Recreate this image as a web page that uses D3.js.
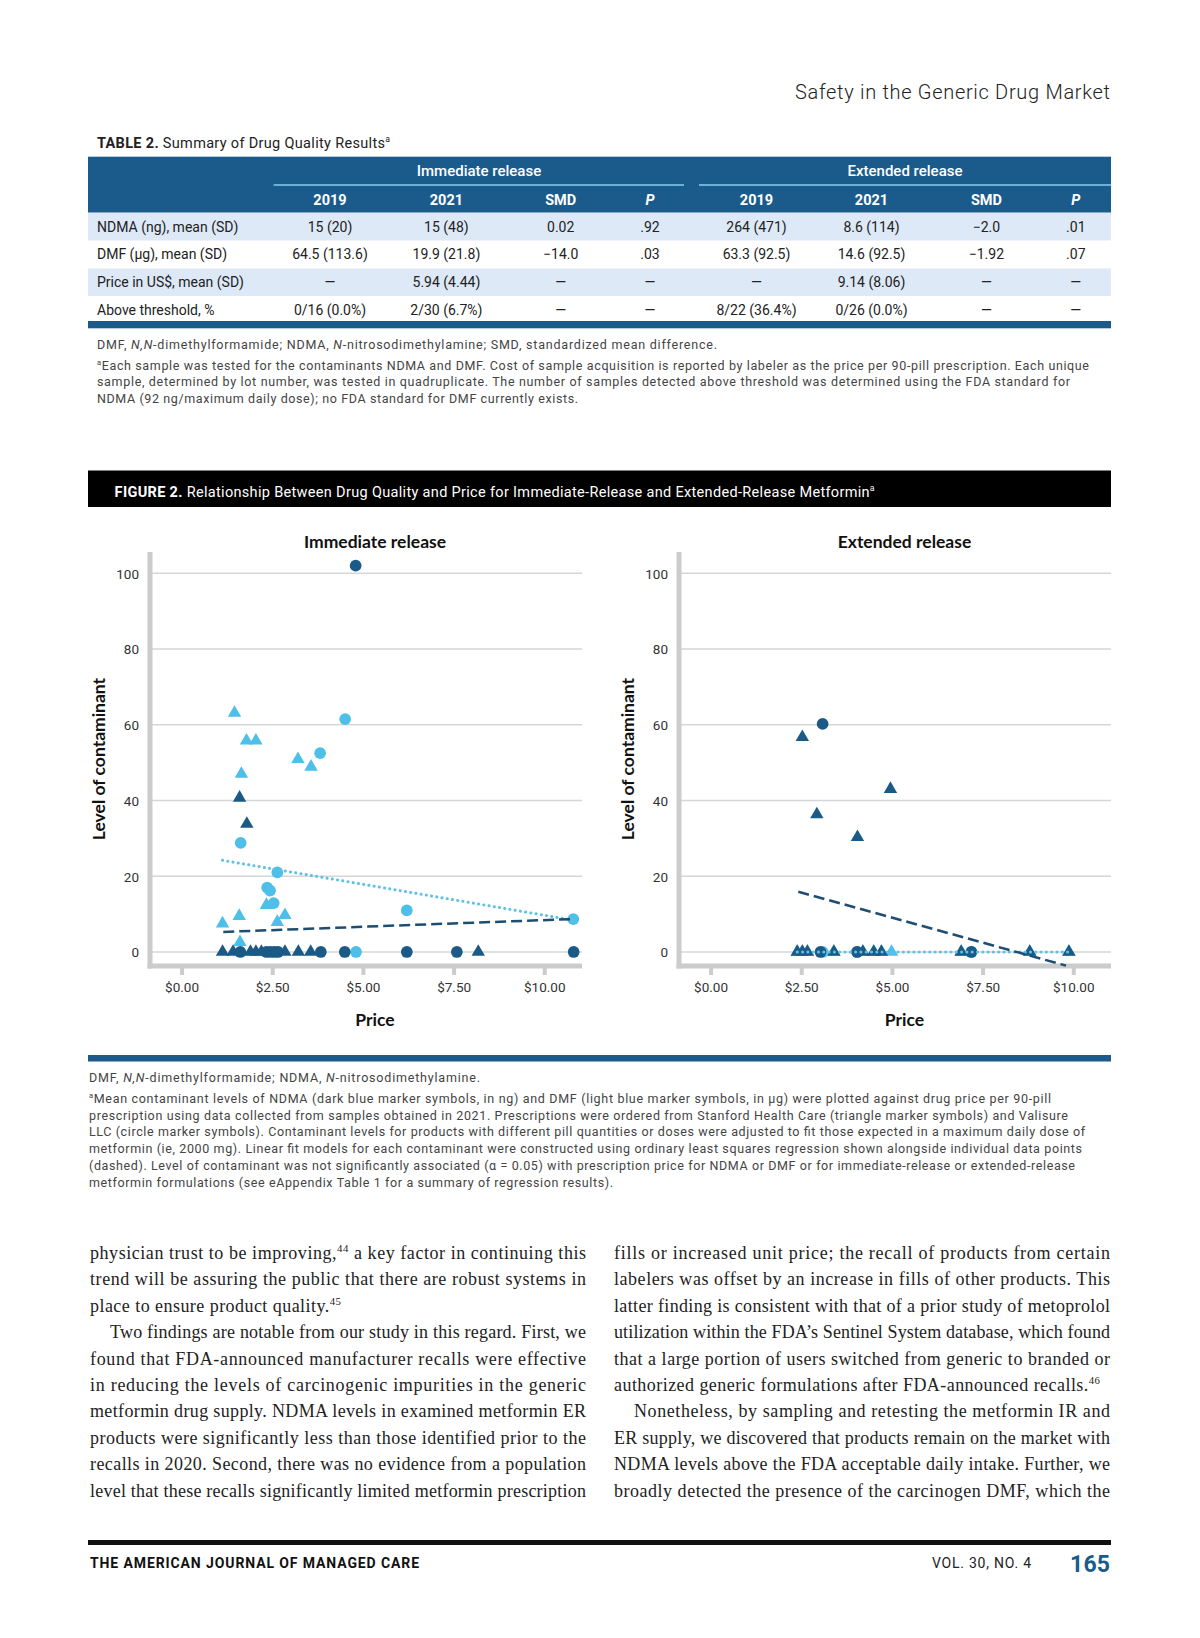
<!DOCTYPE html>
<html><head><meta charset="utf-8">
<script src="https://cdn.jsdelivr.net/npm/d3@7"></script>
<style>
html,body{margin:0;padding:0;background:#fff;}
svg{display:block;}
</style></head><body>
<svg id="page" width="1200" height="1638"></svg>
<script>
// ---------------- DATA ----------------
const tableGroups = ["Immediate release", "Extended release"];
const tableCols = ["2019", "2021", "SMD", "P", "2019", "2021", "SMD", "P"];
const tableRowLabels = ["NDMA (ng), mean (SD)", "DMF (µg), mean (SD)", "Price in US$, mean (SD)", "Above threshold, %"];
const tableValues = [
  ["15 (20)", "15 (48)", "0.02", ".92", "264 (471)", "8.6 (114)", "−2.0", ".01"],
  ["64.5 (113.6)", "19.9 (21.8)", "−14.0", ".03", "63.3 (92.5)", "14.6 (92.5)", "−1.92", ".07"],
  ["—", "5.94 (4.44)", "—", "—", "—", "9.14 (8.06)", "—", "—"],
  ["0/16 (0.0%)", "2/30 (6.7%)", "—", "—", "8/22 (36.4%)", "0/26 (0.0%)", "—", "—"]
];

const xTicks = [0, 2.5, 5, 7.5, 10];
const yTicks = [0, 20, 40, 60, 80, 100];
const panelTitles = ["Immediate release", "Extended release"];

// Immediate release: [price, level]
const irNdmaTriangles = [[1.13,0],[1.42,0],[1.90,0],[2.05,0],[2.20,0],[2.85,0],[3.22,0],[3.56,0],[8.18,0],[1.60,40.7],[1.80,33.8]];
const irNdmaCircles = [[1.62,0],[2.34,0],[2.45,0],[2.56,0],[2.66,0],[3.84,0],[4.50,0],[6.21,0],[7.59,0],[10.81,0],[4.80,102]];
const irDmfTriangles = [[1.46,63.1],[1.79,55.8],[2.05,55.8],[3.21,50.9],[3.57,48.9],[1.65,47.0],[2.34,12.4],[1.59,9.5],[2.85,9.7],[1.13,7.5],[2.64,7.9],[1.61,2.6]];
const irDmfCircles = [[4.51,61.5],[3.82,52.5],[1.63,28.8],[2.64,21.0],[2.36,17.0],[2.44,16.2],[2.54,12.9],[6.21,11.0],[10.80,8.7],[4.81,0]];
const irNdmaFit = [[1.15,5.3],[10.80,8.7]];
const irDmfFit = [[1.13,24.2],[10.80,8.4]];

// Extended release
const erNdmaTriangles = [[2.53,56.7],[2.93,36.3],[4.96,43.0],[4.05,30.3],[2.39,0],[2.53,0],[2.67,0],[3.40,0],[4.20,0],[4.50,0],[4.71,0],[6.91,0],[8.80,0],[9.88,0]];
const erNdmaCircles = [[3.09,60.2],[3.03,0],[4.04,0],[7.19,0]];
const erDmfTriangles = [[2.39,0],[2.53,0],[2.67,0],[3.40,0],[4.20,0],[4.50,0],[4.71,0],[4.99,0],[6.91,0],[8.80,0],[9.88,0]];
const erDmfCircles = [[3.09,0],[4.04,0],[7.19,0]];
const erNdmaFit = [[2.42,15.9],[9.80,-3.6]];
const erDmfFit = [[2.39,0],[9.88,0]];

const bodyLeft = [
  {p:["physician trust to be improving,",["44","s"]," a key factor in continuing this"], j:true},
  {p:["trend will be assuring the public that there are robust systems in"], j:true},
  {p:["place to ensure product quality.",["45","s"]], j:false, len:251},
  {p:["Two findings are notable from our study in this regard. First, we"], j:true, ind:true},
  {p:["found that FDA-announced manufacturer recalls were effective"], j:true},
  {p:["in reducing the levels of carcinogenic impurities in the generic"], j:true},
  {p:["metformin drug supply. NDMA levels in examined metformin ER"], j:true},
  {p:["products were significantly less than those identified prior to the"], j:true},
  {p:["recalls in 2020. Second, there was no evidence from a population"], j:true},
  {p:["level that these recalls significantly limited metformin prescription"], j:true}
];
const bodyRight = [
  {p:["fills or increased unit price; the recall of products from certain"], j:true},
  {p:["labelers was offset by an increase in fills of other products. This"], j:true},
  {p:["latter finding is consistent with that of a prior study of metoprolol"], j:true},
  {p:["utilization within the FDA’s Sentinel System database, which found"], j:true},
  {p:["that a large portion of users switched from generic to branded or"], j:true},
  {p:["authorized generic formulations after FDA-announced recalls.",["46","s"]], j:false, len:486},
  {p:["Nonetheless, by sampling and retesting the metformin IR and"], j:true, ind:true},
  {p:["ER supply, we discovered that products remain on the market with"], j:true},
  {p:["NDMA levels above the FDA acceptable daily intake. Further, we"], j:true},
  {p:["broadly detected the presence of the carcinogen DMF, which the"], j:true}
];

// ---------------- DRAW ----------------
const svg = d3.select("#page");
const BLUE = "#1b5b8c";
const LIGHTROW = "#dde9f6";
const DARK = "#1b5a86";
const LIGHT = "#4dbfe9";

function rich(parent, x, y, parts, o = {}) {
  const size = o.size || 14;
  const t = parent.append("text").attr("x", x).attr("y", y)
    .attr("font-family", o.family || "Roboto").attr("font-size", size)
    .attr("fill", o.fill || "#222").attr("font-weight", o.weight || 400);
  if (o.anchor) t.attr("text-anchor", o.anchor);
  if (o.len) t.attr("textLength", o.len).attr("lengthAdjust", "spacing");
  let shifted = 0;
  parts.forEach(p => {
    const txt = typeof p === "string" ? p : p[0];
    const st = typeof p === "string" ? "" : p[1];
    const s = t.append("tspan").text(txt);
    if (st.includes("b")) s.attr("font-weight", 700);
    if (st.includes("i")) s.attr("font-style", "italic");
    if (st.includes("s")) {
      s.attr("font-size", size * 0.6).attr("dy", -size * 0.38);
      shifted = size * 0.38;
    } else if (shifted) { s.attr("dy", shifted); shifted = 0; }
  });
  return t;
}

// Running header
rich(svg, 1110, 99, ["Safety in the Generic Drug Market"], {size: 20, weight: 300, anchor: "end", fill: "#222", len: 315});

// Table title
rich(svg, 97, 148, [["TABLE 2.", "b"], " Summary of Drug Quality Results", ["a", "s"]], {size: 14.5, fill: "#222", len: 293});

// Table
const T = svg.append("g");
T.append("rect").attr("x", 88).attr("y", 156.7).attr("width", 1023).attr("height", 56).attr("fill", BLUE);
const groupSpans = [[273.6, 684], [699, 1111]];
const groupX = [479, 905];
tableGroups.forEach((g, i) => {
  T.append("line").attr("x1", groupSpans[i][0]).attr("x2", groupSpans[i][1]).attr("y1", 185).attr("y2", 185)
    .attr("stroke", "#86cdf0").attr("stroke-width", 1.5);
  rich(T, groupX[i], 176, [g], {size: 15, weight: 500, anchor: "middle", fill: "#fff"});
});
const colX = [330, 446.4, 560.7, 650, 756.5, 871.5, 986.4, 1075.8];
tableCols.forEach((c, i) => {
  rich(T, colX[i], 204.5, [[c, c === "P" ? "bi" : "b"]], {size: 14.5, weight: 500, anchor: "middle", fill: "#fff"});
});
const rowTop = [212.7, 240.5, 268.5, 296, 321];
const rowBase = [231.8, 259, 287.3, 315];
tableRowLabels.forEach((lab, r) => {
  if (r % 2 === 0) T.append("rect").attr("x", 88).attr("y", rowTop[r]).attr("width", 1023).attr("height", rowTop[r + 1] - rowTop[r]).attr("fill", LIGHTROW);
  rich(T, 97, rowBase[r], [lab], {size: 14, fill: "#222"});
  tableValues[r].forEach((v, c) => rich(T, colX[c], rowBase[r], [v], {size: 14, anchor: "middle", fill: "#222"}));
});
T.append("rect").attr("x", 88).attr("y", 321).attr("width", 1023).attr("height", 7.3).attr("fill", BLUE);

// Table footnotes
const fnTable = [
  {p:["DMF, ",["N,N","i"],"-dimethylformamide; NDMA, ",["N","i"],"-nitrosodimethylamine; SMD, standardized mean difference."], len:620},
  {p:[["a","s"],"Each sample was tested for the contaminants NDMA and DMF. Cost of sample acquisition is reported by labeler as the price per 90-pill prescription. Each unique"], len:992},
  {p:["sample, determined by lot number, was tested in quadruplicate. The number of samples detected above threshold was determined using the FDA standard for"], len:973},
  {p:["NDMA (92 ng/maximum daily dose); no FDA standard for DMF currently exists."], len:481}
];
const fnTableY = [348.8, 369.5, 386, 402.5];
fnTable.forEach((l, i) => rich(svg, 97, fnTableY[i], l.p, {size: 12.5, fill: "#444", len: l.len}));

// Figure title bar
svg.append("rect").attr("x", 88).attr("y", 470.5).attr("width", 1023).attr("height", 36.5).attr("fill", "#000");
rich(svg, 114.6, 496.5, [["FIGURE 2.", "b"], " Relationship Between Drug Quality and Price for Immediate-Release and Extended-Release Metformin", ["a", "s"]], {size: 14.5, fill: "#fff", len: 760});

// Panels
const xDomain = [-0.87, 11.04];
const yDomain = [-3.7, 105.6];
const panels = [
  {left: 150, right: 582, center: 375, ylab: 98.3, title: panelTitles[0],
   ndmaT: irNdmaTriangles, ndmaC: irNdmaCircles, dmfT: irDmfTriangles, dmfC: irDmfCircles, ndmaFit: irNdmaFit, dmfFit: irDmfFit},
  {left: 679, right: 1111, center: 904.5, ylab: 627.3, title: panelTitles[1],
   ndmaT: erNdmaTriangles, ndmaC: erNdmaCircles, dmfT: erDmfTriangles, dmfC: erDmfCircles, ndmaFit: erNdmaFit, dmfFit: erDmfFit}
];

const AX = "#cccccc";
panels.forEach(P => {
  const g = svg.append("g");
  const x = d3.scaleLinear().domain(xDomain).range([P.left, P.right]);
  const y = d3.scaleLinear().domain(yDomain).range([966, 552]);

  // gridlines
  g.selectAll("line.grid").data(yTicks).join("line").attr("class", "grid")
    .attr("x1", P.left).attr("x2", P.right).attr("y1", d => y(d)).attr("y2", d => y(d))
    .attr("stroke", "#d6d6d6").attr("stroke-width", 1.5);

  // y axis
  const ya = g.append("g").attr("transform", `translate(${P.left},0)`)
    .call(d3.axisLeft(y).tickValues(yTicks).tickSize(0).tickSizeOuter(0).tickPadding(11));
  ya.select(".domain").attr("stroke", AX).attr("stroke-width", 5).attr("d", `M0,552V968.5`);
  ya.selectAll("text").attr("font-family", "Roboto").attr("font-size", 13.5).attr("fill", "#333").attr("dy", "0.36em");

  // x axis
  const xa = g.append("g").attr("transform", "translate(0,966)")
    .call(d3.axisBottom(x).tickValues(xTicks).tickSize(9).tickSizeOuter(0).tickFormat(d3.format("$.2f")));
  xa.select(".domain").attr("stroke", AX).attr("stroke-width", 5).attr("d", `M${P.left - 2.5},0H${P.right}`);
  xa.selectAll(".tick line").attr("stroke", AX).attr("stroke-width", 4).attr("y1", 2);
  xa.selectAll("text").attr("font-family", "Roboto").attr("font-size", 13.5).attr("fill", "#333").attr("y", 25.5).attr("dy", null);

  // titles
  const lab = (sel) => sel.attr("font-family", "Lato").attr("font-weight", 700).attr("font-size", 17.5).attr("fill", "#111");
  lab(g.append("text").attr("x", P.center).attr("y", 547.8).attr("text-anchor", "middle")).text(P.title);
  lab(g.append("text").attr("x", P.center).attr("y", 1026).attr("text-anchor", "middle")).text("Price");
  lab(g.append("text").attr("transform", `translate(${P.ylab},759) rotate(-90)`).attr("text-anchor", "middle").attr("dy", "0.36em")).text("Level of contaminant");

  const tri = d3.symbol().type(d3.symbolTriangle).size(78);
  const circ = d3.symbol().type(d3.symbolCircle).size(108);
  const drawMarks = (data, sym, color) => g.append("g").selectAll("path").data(data).join("path")
    .attr("d", sym).attr("fill", color).attr("transform", d => `translate(${x(d[0])},${y(d[1])})`);

  drawMarks(P.dmfT, tri, LIGHT);
  drawMarks(P.dmfC, circ, LIGHT);
  drawMarks(P.ndmaT, tri, DARK);
  drawMarks(P.ndmaC, circ, DARK);

  const line = d3.line().x(d => x(d[0])).y(d => y(d[1]));
  g.append("path").attr("d", line(P.dmfFit)).attr("fill", "none").attr("stroke", "#5cc2e6")
    .attr("stroke-width", 3).attr("stroke-linecap", "round").attr("stroke-dasharray", "0.1,5.2");
  g.append("path").attr("d", line(P.ndmaFit)).attr("fill", "none").attr("stroke", "#1d4d70")
    .attr("stroke-width", 2.5).attr("stroke-dasharray", "11,5");
});

// Figure bottom bar
svg.append("rect").attr("x", 88).attr("y", 1055).attr("width", 1023).attr("height", 6.5).attr("fill", BLUE);

// Figure footnotes
const fnFig = [
  {p:["DMF, ",["N,N","i"],"-dimethylformamide; NDMA, ",["N","i"],"-nitrosodimethylamine."], len:391},
  {p:[["a","s"],"Mean contaminant levels of NDMA (dark blue marker symbols, in ng) and DMF (light blue marker symbols, in µg) were plotted against drug price per 90-pill"], len:962},
  {p:["prescription using data collected from samples obtained in 2021. Prescriptions were ordered from Stanford Health Care (triangle marker symbols) and Valisure"], len:979},
  {p:["LLC (circle marker symbols). Contaminant levels for products with different pill quantities or doses were adjusted to fit those expected in a maximum daily dose of"], len:996},
  {p:["metformin (ie, 2000 mg). Linear fit models for each contaminant were constructed using ordinary least squares regression shown alongside individual data points"], len:993},
  {p:["(dashed). Level of contaminant was not significantly associated (α = 0.05) with prescription price for NDMA or DMF or for immediate-release or extended-release"], len:986},
  {p:["metformin formulations (see eAppendix Table 1 for a summary of regression results)."], len:524}
];
const fnFigY = [1081.5, 1103, 1119.6, 1136.3, 1153, 1169.9, 1186.6];
fnFig.forEach((l, i) => rich(svg, 89, fnFigY[i], l.p, {size: 12.5, fill: "#444", len: l.len}));

// Body text
function drawColumn(lines, x0, width) {
  lines.forEach((l, i) => {
    const ind = l.ind ? 20 : 0;
    const len = l.j ? width - ind : l.len;
    rich(svg, x0 + ind, 1259 + i * 26.4, l.p, {size: 18, family: "Liberation Serif", fill: "#222", len: len});
  });
}
drawColumn(bodyLeft, 90, 496);
drawColumn(bodyRight, 614, 496);

// Footer
svg.append("rect").attr("x", 88).attr("y", 1540).attr("width", 1023).attr("height", 5).attr("fill", "#111");
rich(svg, 90, 1567.5, ["THE AMERICAN JOURNAL OF MANAGED CARE"], {size: 14, weight: 700, fill: "#111", len: 329});
rich(svg, 932, 1567.5, ["VOL. 30, NO. 4"], {size: 14, fill: "#222", len: 99});
rich(svg, 1110, 1571.5, ["165"], {size: 23, weight: 700, fill: BLUE, anchor: "end", len: 40});
</script>
</body></html>
